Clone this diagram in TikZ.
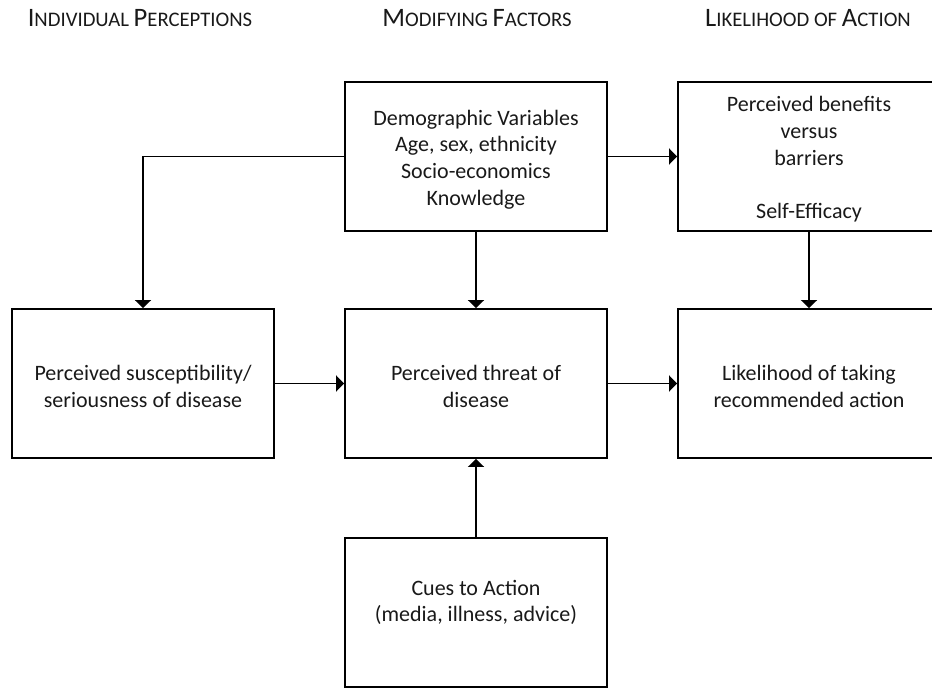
\documentclass[tikz,border=0pt]{standalone}
\usepackage{fontspec}
\setmainfont{Carlito}
\usetikzlibrary{arrows.meta,calc}

% faked small capitals for the column headings
\newcommand{\hdbig}[1]{{\fontsize{26.6}{26.6}\selectfont #1}}
\newcommand{\hdsmall}[1]{{\fontsize{20.7}{20.7}\selectfont #1}}

\tikzset{
  box/.style={draw=black, line width=1.9pt, minimum width=262pt, minimum height=149pt,
    inner sep=0pt},
  body/.style={align=center, font=\fontsize{22}{26.7}\selectfont, text=black!90,
    inner sep=0pt, yshift=-3pt},
  heading/.style={inner sep=0pt, text=black!90},
  arr/.style={line width=1.9pt, -{Triangle[width=16pt,length=8pt]}},
}

\begin{document}
\begin{tikzpicture}[x=1pt, y=-1pt]
  \useasboundingbox (0,0) rectangle (932,688);
  \clip (0,0) rectangle (932,688);

  % column headings
  \node[heading] (h1) at (140,18) {\hdbig{I}\hdsmall{NDIVIDUAL }\hdbig{P}\hdsmall{ERCEPTIONS}};
  \node[heading] (h2) at (477,18) {\hdbig{M}\hdsmall{ODIFYING }\hdbig{F}\hdsmall{ACTORS}};
  \node[heading] (h3) at (808,18) {\hdbig{L}\hdsmall{IKELIHOOD OF }\hdbig{A}\hdsmall{CTION}};

  % top row
  \node[box] (demo) at (476,156.5) {};
  \node[body] (demotext) at (demo.center) {Demographic Variables\\Age, sex, ethnicity\\Socio-economics\\Knowledge};
  \node[box] (benefit) at (809,156.5) {};
  \node[body] (benefittext) at (benefit.center) {Perceived benefits\\versus\\barriers\\[26.7pt]Self-Efficacy};

  % middle row
  \node[box] (susc) at (143,383.5) {};
  \node[body] (susctext) at (susc.center) {Perceived susceptibility/\\seriousness of disease};
  \node[box] (threat) at (476,383.5) {};
  \node[body] (threattext) at (threat.center) {Perceived threat of\\disease};
  \node[box] (likely) at (809,383.5) {};
  \node[body] (likelytext) at (likely.center) {Likelihood of taking\\recommended action};

  % bottom row
  \node[box] (cues) at (476,612.5) {};
  \node[body] (cuestext) at (476,599.5) {Cues to Action\\(media, illness, advice)};

  % connectors
  \draw[arr] (demo.west) -| (susc.north);
  \draw[arr] (demo.east) -- (benefit.west);
  \draw[arr] (demo.south) -- (threat.north);
  \draw[arr] (benefit.south) -- (likely.north);
  \draw[arr] (susc.east) -- (threat.west);
  \draw[arr] (threat.east) -- (likely.west);
  \draw[arr] (cues.north) -- (threat.south);
\end{tikzpicture}
\end{document}
